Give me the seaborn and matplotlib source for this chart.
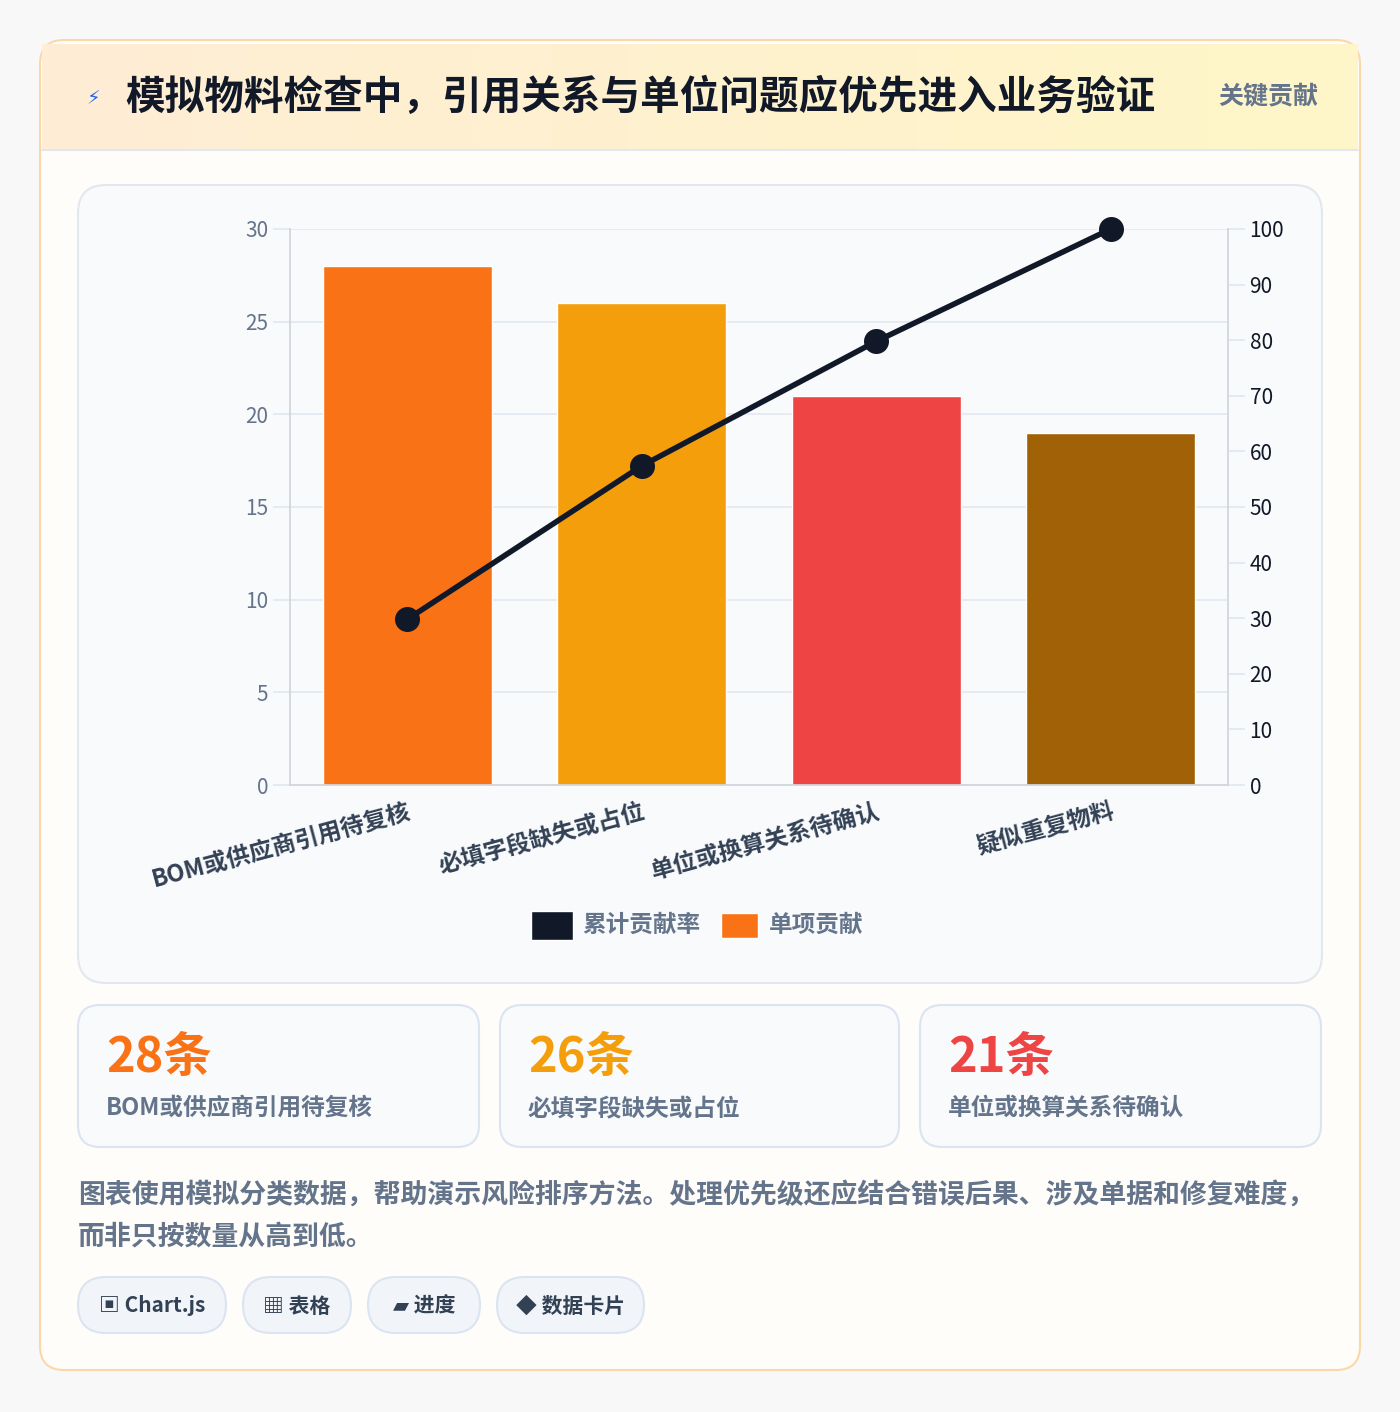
import numpy as np
import pandas as pd
import matplotlib.pyplot as plt
import seaborn as sns
from matplotlib.patches import FancyBboxPatch, Rectangle

categories = ['BOM或供应商引用待复核', '必填字段缺失或占位', '单位或换算关系待确认', '疑似重复物料']
counts = [28, 26, 21, 19]
cumulative = [29.8, 57.4, 79.8, 100]
bar_colors = ['#f97316', '#f59e0b', '#ef4444', '#a16207']
left_ticks = [0, 5, 10, 15, 20, 25, 30]
right_ticks = [0, 10, 20, 30, 40, 50, 60, 70, 80, 90, 100]
title = '模拟物料检查中，引用关系与单位问题应优先进入业务验证'
badge = '关键贡献'
cards = [('28条', 'BOM或供应商引用待复核', '#f97316'),
         ('26条', '必填字段缺失或占位', '#f59e0b'),
         ('21条', '单位或换算关系待确认', '#ef4444')]
note_lines = ['图表使用模拟分类数据，帮助演示风险排序方法。处理优先级还应结合错误后果、涉及单据和修复难度，',
              '而非只按数量从高到低。']
chips = ['▣ Chart.js', '▦ 表格', '▰ 进度', '◆ 数据卡片']
chip_widths = [148, 108, 112, 147]

sns.set_theme(style='white')
plt.rcParams['font.family'] = ['Noto Sans CJK SC', 'DejaVu Sans']

W, H = 1400, 1412
fig = plt.figure(figsize=(W / 100, H / 100), dpi=100)
fig.patch.set_facecolor('#f8f8f8')

bg = fig.add_axes([0, 0, 1, 1])
bg.set_xlim(0, W)
bg.set_ylim(H, 0)
bg.axis('off')

def rbox(x0, y0, x1, y1, r, fc, ec, lw=1.5, z=1):
    bg.add_patch(FancyBboxPatch((x0 + r, y0 + r), x1 - x0 - 2 * r, y1 - y0 - 2 * r,
                                boxstyle=f'round,pad={r}', fc=fc, ec=ec, lw=lw, zorder=z))

# outer card
rbox(40, 40, 1360, 1370, 24, '#fffdfa', '#fbd8a8', 1.5)
# header band with left-to-right gradient
grad = np.linspace(0, 1, 256).reshape(1, -1)
from matplotlib.colors import LinearSegmentedColormap
hcmap = LinearSegmentedColormap.from_list('h', ['#ffedd5', '#fef6c8'])
bg.imshow(grad, cmap=hcmap, extent=(42, 1358, 150, 44), aspect='auto', zorder=1.5)
bg.set_xlim(0, W)
bg.set_ylim(H, 0)
bg.plot([42, 1358], [150, 150], color='#e2e8f0', lw=1.5, zorder=2)
bg.text(86, 99, '⚡', color='#2563eb', fontsize=14, va='center', zorder=3,
        family=['DejaVu Sans'])
bg.text(125, 97, title, fontsize=28.5, fontweight='bold', color='#111827', va='center', zorder=3)
bg.text(1318, 97, badge, fontsize=18, fontweight='bold', color='#64748b', va='center', ha='right', zorder=3)

# chart panel
rbox(78, 185, 1322, 983, 28, '#f8fafc', '#e2e8f0', 1.5)

for (big, small, col), x0, x1 in zip(cards, [78, 500, 920], [479, 899, 1321]):
    rbox(x0, 1005, x1, 1147, 22, '#f8fafc', '#dbe4f0', 1.5)
    bg.text(x0 + 28, 1057, big, fontsize=35, fontweight='bold', color=col, va='center', zorder=3)
    bg.text(x0 + 28, 1108, small, fontsize=17, fontweight='bold', color='#64748b', va='center', zorder=3)

for i, line in enumerate(note_lines):
    bg.text(78, 1195 + 42 * i, line, fontsize=19.4, fontweight='bold', color='#64748b', va='center', zorder=3)

cx = 78
for c, w in zip(chips, chip_widths):
    rbox(cx, 1277, cx + w, 1333, 28, '#f1f5f9', '#dbe4f0', 1.5)
    bg.text(cx + w / 2, 1306, c, fontsize=15, fontweight='bold', color='#334155', ha='center', va='center',
            zorder=3, family=['Noto Sans CJK SC', 'DejaVu Sans'])
    cx += w + 17

# main chart
ax = fig.add_axes([290 / W, 1 - 785 / H, (1228 - 290) / W, (785 - 229) / H])
ax.set_facecolor('none')
df = pd.DataFrame({'cat': categories, 'n': counts})
sns.barplot(data=df, x='cat', y='n', hue='cat', palette=bar_colors, legend=False,
            width=0.72, saturation=1, ax=ax, zorder=2)
ax.set_ylim(0, 30)
ax.set_yticks(left_ticks)
ax.set_xlabel('')
ax.set_ylabel('')
ax.grid(axis='y', color='#e2e8f0', lw=1.2, zorder=0)
for s in ['top', 'right']:
    ax.spines[s].set_visible(False)
for s in ['left', 'bottom']:
    ax.spines[s].set_color('#d1d5db')
ax.tick_params(axis='y', colors='#64748b', labelsize=15, length=12, color='#e2e8f0')
ax.tick_params(axis='x', length=0, pad=10)
ax.set_xticks(range(len(categories)))
ax.set_xticklabels(categories, rotation=15, ha='right', rotation_mode='anchor',
                   fontsize=17, fontweight='bold', color='#334155')

ax2 = ax.twinx()
sns.lineplot(x=list(range(len(categories))), y=cumulative, ax=ax2, color='#111827', lw=4,
             marker='o', markersize=18, markeredgewidth=0, zorder=4, clip_on=False)
ax2.set_ylim(0, 100)
ax2.set_yticks(right_ticks)
ax2.tick_params(axis='y', colors='#111827', labelsize=15, length=12, color='#e2e8f0')
for s in ['top', 'left', 'bottom']:
    ax2.spines[s].set_visible(False)
ax2.spines['right'].set_color('#d1d5db')
ax.set_xlim(-0.5, 3.5)
ax2.set_xlim(-0.5, 3.5)

# legend
bg.add_patch(Rectangle((531, 911), 42, 29, fc='#111827', zorder=3))
bg.text(582, 925, '累计贡献率', fontsize=17, fontweight='bold', color='#64748b', va='center', zorder=3)
bg.add_patch(Rectangle((721, 913), 37, 25, fc='#f97316', zorder=3))
bg.text(769, 925, '单项贡献', fontsize=17, fontweight='bold', color='#64748b', va='center', zorder=3)

fig.savefig('out.png', dpi=100)
